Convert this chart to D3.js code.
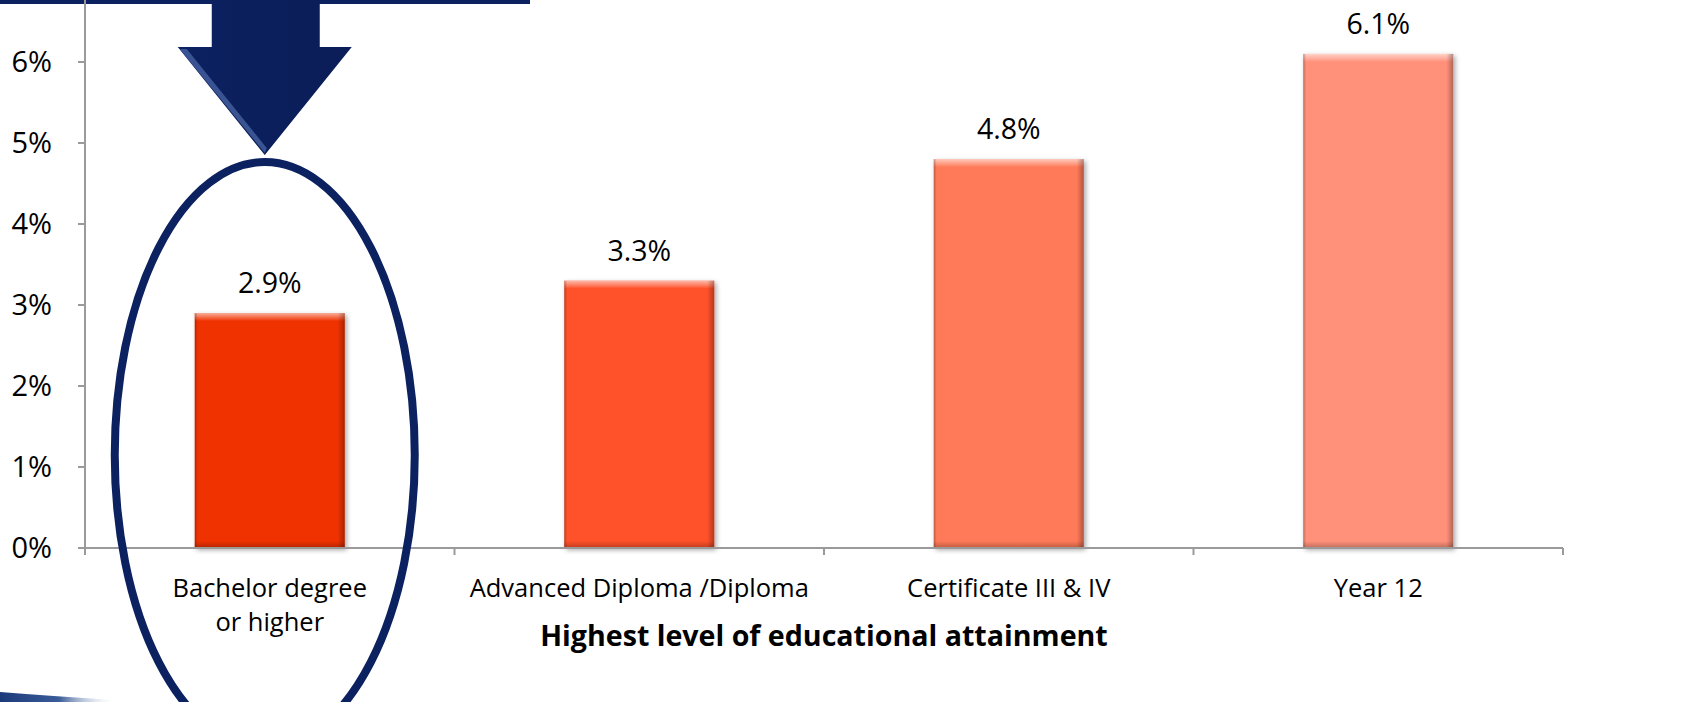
<!DOCTYPE html>
<html><head><meta charset="utf-8">
<script src="https://cdn.jsdelivr.net/npm/d3@7"></script>
<style>
html,body{margin:0;padding:0;background:#fff;}
svg{display:block;font-family:"Open Sans",Lato,sans-serif;}
</style></head>
<body><svg id="c" width="1692" height="702"></svg>
<script>
const categories = [["Bachelor degree","or higher"],["Advanced Diploma /Diploma"],["Certificate III & IV"],["Year 12"]];
const values = [0.029, 0.033, 0.048, 0.061];
const valueLabels = ["2.9%","3.3%","4.8%","6.1%"];
const yTicks = [0,0.01,0.02,0.03,0.04,0.05,0.06];
const xTitle = "Highest level of educational attainment";

const barColors = ["#EF3306","#FF512B","#FF7A58","#FF917A"];
const navy = "#0C2160";

const svg = d3.select("#c");
const defs = svg.append("defs");
const keys = categories.map((d,i)=>"c"+i);
const x = d3.scaleBand().domain(keys).range([85,1563]).padding(0);
const y = d3.scaleLinear().domain([0,0.06]).range([548,62]);
const color = d3.scaleOrdinal().domain(keys).range(barColors);

// top navy band
svg.append("rect").attr("x",0).attr("y",0).attr("width",530).attr("height",4).attr("fill",navy);

// bottom-left swoosh
const sg = defs.append("linearGradient").attr("id","sw").attr("x1","0").attr("x2","1");
sg.append("stop").attr("offset","0").attr("stop-color","#1B3A7A");
sg.append("stop").attr("offset","0.5").attr("stop-color","#3A5C98");
sg.append("stop").attr("offset","1").attr("stop-color","#fff").attr("stop-opacity",0);
svg.append("path").attr("d","M0,692 Q50,696 115,700 L118,702 L0,702 Z").attr("fill","url(#sw)");

// gradients for bevels
const gTop = defs.append("linearGradient").attr("id","gTop").attr("x1",0).attr("x2",0).attr("y1",0).attr("y2",1);
gTop.append("stop").attr("offset",0).attr("stop-color","#fff").attr("stop-opacity",0.6);
gTop.append("stop").attr("offset",1).attr("stop-color","#fff").attr("stop-opacity",0);
const gR = defs.append("linearGradient").attr("id","gR").attr("x1",0).attr("x2",1);
gR.append("stop").attr("offset",0).attr("stop-color","#000").attr("stop-opacity",0);
gR.append("stop").attr("offset",1).attr("stop-color","#000").attr("stop-opacity",0.3);
const gB = defs.append("linearGradient").attr("id","gB").attr("x1",0).attr("x2",0).attr("y1",0).attr("y2",1);
gB.append("stop").attr("offset",0).attr("stop-color","#000").attr("stop-opacity",0);
gB.append("stop").attr("offset",1).attr("stop-color","#000").attr("stop-opacity",0.25);
const gL = defs.append("linearGradient").attr("id","gL").attr("x1",0).attr("x2",1);
gL.append("stop").attr("offset",0).attr("stop-color","#000").attr("stop-opacity",0.25);
gL.append("stop").attr("offset",1).attr("stop-color","#000").attr("stop-opacity",0);
const shadow = defs.append("filter").attr("id","sh").attr("x","-10%").attr("y","-10%").attr("width","130%").attr("height","130%");
shadow.append("feGaussianBlur").attr("in","SourceAlpha").attr("stdDeviation",2.5);
shadow.append("feOffset").attr("dx",2).attr("dy",2).attr("result","b");
shadow.append("feComponentTransfer").append("feFuncA").attr("type","linear").attr("slope",0.35);
const fm = shadow.append("feMerge"); fm.append("feMergeNode"); fm.append("feMergeNode").attr("in","SourceGraphic");

// axes
const tickLen = 7;
svg.append("line").attr("x1",85).attr("x2",85).attr("y1",0).attr("y2",y(0)).attr("stroke","#9a9a9a").attr("stroke-width",2);
svg.append("g").selectAll("line").data(yTicks).join("line")
  .attr("x1",85-tickLen).attr("x2",85).attr("y1",d=>y(d)).attr("y2",d=>y(d)).attr("stroke","#9a9a9a").attr("stroke-width",2);
svg.append("g").selectAll("text").data(yTicks).join("text")
  .attr("x",52).attr("y",d=>y(d)).attr("dy","0.35em").attr("text-anchor","end")
  .attr("font-size",29).attr("fill","#000").text(d=>d3.format(".0%")(d));

// bars
const bw = x.bandwidth()*0.406;
const bars = svg.append("g").selectAll("g").data(keys).join("g");
bars.each(function(k,i){
  const g = d3.select(this);
  const bx = x(k)+x.bandwidth()/2-bw/2, by = y(values[i]), bh = y(0)-y(values[i]);
  g.append("rect").attr("x",bx).attr("y",by).attr("width",bw).attr("height",bh).attr("fill",color(k)).attr("filter","url(#sh)");
  g.append("rect").attr("x",bx).attr("y",by).attr("width",bw).attr("height",8).attr("fill","url(#gTop)");
  g.append("rect").attr("x",bx+bw-7).attr("y",by).attr("width",7).attr("height",bh).attr("fill","url(#gR)");
  g.append("rect").attr("x",bx).attr("y",by+bh-7).attr("width",bw).attr("height",7).attr("fill","url(#gB)");
  g.append("rect").attr("x",bx).attr("y",by).attr("width",3).attr("height",bh).attr("fill","url(#gL)");
  g.append("text").attr("x",bx+bw/2).attr("y",by-30).attr("dy","0.35em").attr("text-anchor","middle")
   .attr("font-size",28.5).attr("fill","#000").text(valueLabels[i]);
});

// x axis
svg.append("line").attr("x1",85).attr("x2",1563).attr("y1",y(0)).attr("y2",y(0)).attr("stroke","#9a9a9a").attr("stroke-width",2);
const bounds = keys.map(k=>x(k)).concat([x.range()[1]]);
svg.append("g").selectAll("line").data(bounds).join("line")
  .attr("x1",d=>d).attr("x2",d=>d).attr("y1",y(0)).attr("y2",y(0)+tickLen).attr("stroke","#9a9a9a").attr("stroke-width",2);
svg.append("g").selectAll("text").data(keys).join("text")
  .attr("x",k=>x(k)+x.bandwidth()/2).attr("y",588).attr("text-anchor","middle").attr("font-size",25.5).attr("fill","#000")
  .each(function(k,i){
    const t=d3.select(this);
    categories[i].forEach((line,j)=>t.append("tspan").attr("x",x(k)+x.bandwidth()/2).attr("y",588+j*34).attr("dy","0.35em").text(line));
  });
svg.append("text").attr("x",824).attr("y",636).attr("dy","0.35em").attr("text-anchor","middle")
  .attr("font-size",28.6).attr("font-weight","bold").attr("fill","#000").text(xTitle);

// ellipse highlight
svg.append("ellipse").attr("cx",x(keys[0])+x.bandwidth()/2-5).attr("cy",455).attr("rx",150).attr("ry",293)
  .attr("fill","none").attr("stroke",navy).attr("stroke-width",8);

// arrow
const ag = defs.append("linearGradient").attr("id","ag").attr("x1",0).attr("x2",1).attr("y1",0).attr("y2",0);
ag.append("stop").attr("offset",0).attr("stop-color","#0C2160");
ag.append("stop").attr("offset",1).attr("stop-color","#0A1D58");
const ax = x(keys[0])+x.bandwidth()/2-5;
svg.append("path").attr("d",`M${ax-53},0 L${ax+55},0 L${ax+55},47 L${ax+87},47 L${ax},155 L${ax-87},47 L${ax-53},47 Z`)
  .attr("fill","url(#ag)");
svg.append("path").attr("d",`M${ax-85},49 L${ax-78},49 L${ax+2},148 L${ax},153 Z`).attr("fill","#4E6AA8").attr("opacity",0.7);
</script></body></html>
